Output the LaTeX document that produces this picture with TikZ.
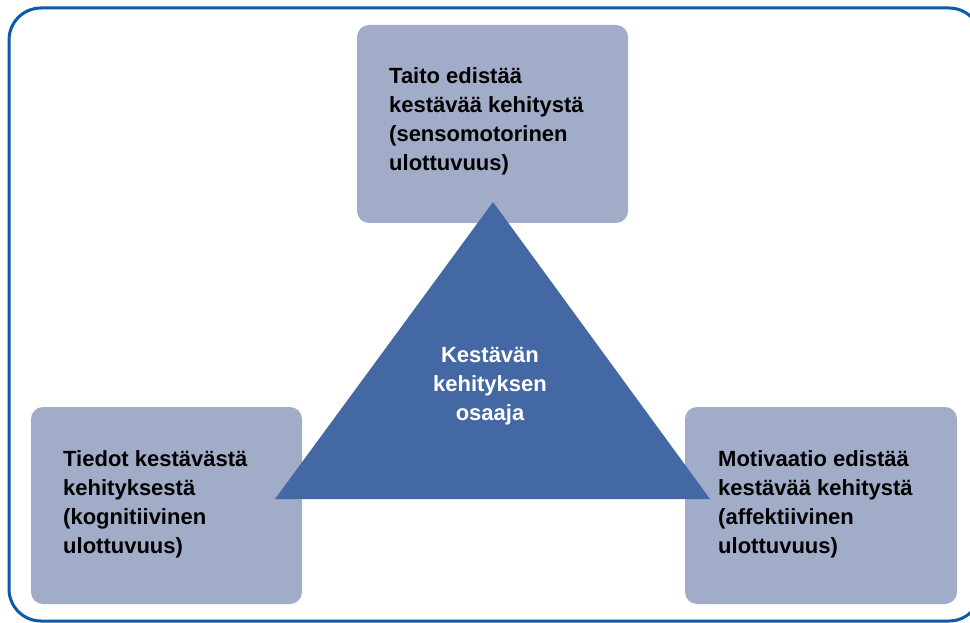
\documentclass[tikz,border=0pt]{standalone}
\usepackage{fontspec}
\setmainfont{Liberation Sans}
\definecolor{boxfill}{HTML}{A1ACC8}
\definecolor{trifill}{HTML}{4468A4}
\definecolor{framecol}{HTML}{0D5AA7}
\begin{document}
\begin{tikzpicture}[x=1pt,y=-1pt,
  box/.style={fill=boxfill, rounded corners=12pt},
  boxtext/.style={anchor=base west, inner sep=0pt, align=left, text=black,
    font=\fontsize{22}{29}\selectfont\bfseries},
  centertext/.style={anchor=base, inner sep=0pt, align=center, text=white,
    font=\fontsize{22}{29}\selectfont\bfseries}]
\clip (0,0) rectangle (970,623);
\fill[white] (0,0) rectangle (970,623);
\draw[framecol, line width=3pt, rounded corners=32pt] (9,8) rectangle (981,621);
\fill[box] (357,25) rectangle (628,223);
\fill[box] (31,407) rectangle (302,604);
\fill[box] (685,407) rectangle (957,604);
\fill[trifill] (275,499) -- (493,202) -- (710,499) -- cycle;
\node[boxtext] (top) at (389,171) {Taito edistää\\kestävää kehitystä\\(sensomotorinen\\ulottuvuus)};
\node[boxtext] (left) at (63,553) {Tiedot kestävästä\\kehityksestä\\(kognitiivinen\\ulottuvuus)};
\node[boxtext] (right) at (718,553) {Motivaatio edistää\\kestävää kehitystä\\(affektiivinen\\ulottuvuus)};
\node[centertext] (center) at (490,420) {Kestävän\\kehityksen\\osaaja};
\end{tikzpicture}
\end{document}
